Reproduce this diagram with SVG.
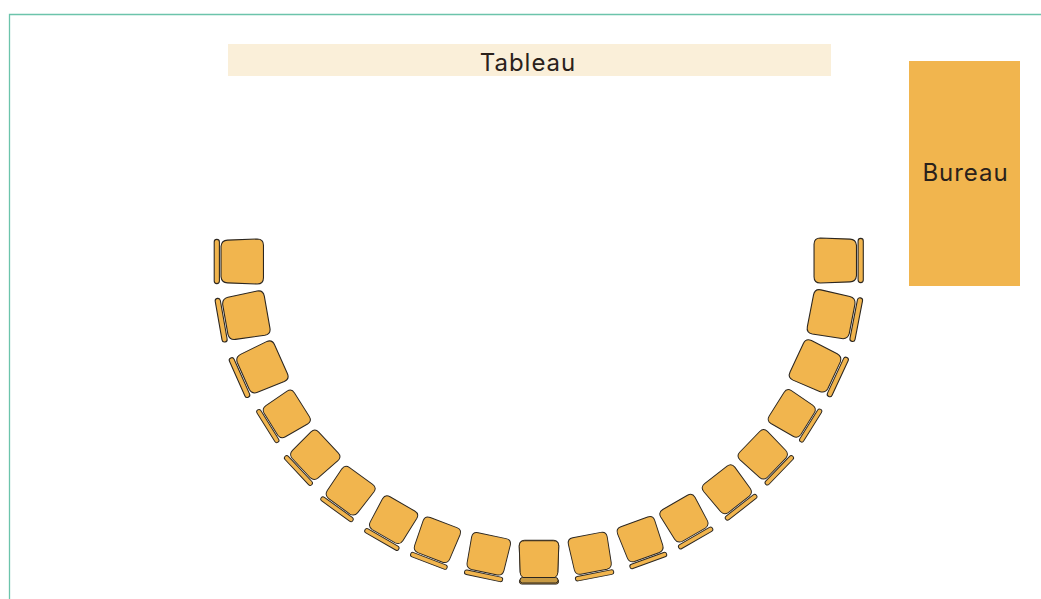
<svg xmlns="http://www.w3.org/2000/svg" width="1041" height="599" viewBox="0 0 1041 599">
<style>
.seat,.back{fill:#F1B54E;stroke:#2b2620;stroke-width:1}
.label{font-family:"Inter","Noto Sans",sans-serif;font-size:24px;letter-spacing:0.95px;fill:#2a211b;text-anchor:middle}
</style>
<defs>
<g id="chair">
<path class="seat" d="M-15 -20.800H15Q20.800 -20.800 20.800 -15L19.800 12.500Q19.500 18 14 18.500H-14Q-19.500 18 -19.800 12.500L-20.800 -15Q-20.800 -20.800 -15 -20.800Z"/>
<rect class="back" x="-20.500" y="20" width="41" height="4.800" rx="2.400"/>
</g>
</defs>
<path d="M9.500 599V14.500H1041" fill="none" stroke="#6cc4ab" stroke-width="1.300"/>
<g id="tableau"><rect x="228" y="44" width="603" height="32" fill="#FAEFD9"/><text class="label" x="528" y="71">Tableau</text></g>
<g id="bureau"><rect x="909" y="61" width="111" height="225" fill="#F1B54E"/><text class="label" x="965.500" y="181">Bureau</text></g>
<g id="chairs">
<g id="seat-1"><use href="#chair" transform="translate(241,261.500) rotate(90) scale(1.080)"/></g>
<g id="seat-2"><use href="#chair" transform="translate(245,316) rotate(80) scale(1.080)"/></g>
<g id="seat-3"><use href="#chair" transform="translate(261,368) rotate(66) scale(1.050)"/></g>
<g id="seat-4"><use href="#chair" transform="translate(285.500,415) rotate(58) scale(0.930)"/></g>
<g id="seat-5"><use href="#chair" transform="translate(314,456) rotate(47) scale(0.950)"/></g>
<g id="seat-6"><use href="#chair" transform="translate(349.500,492) rotate(36) scale(0.950)"/></g>
<g id="seat-7"><use href="#chair" transform="translate(392.500,521) rotate(30) scale(0.950)"/></g>
<g id="seat-8"><use href="#chair" transform="translate(436.500,541) rotate(21) scale(0.950)"/></g>
<g id="seat-9"><use href="#chair" transform="translate(488,555) rotate(12) scale(0.950)"/></g>
<g id="seat-10"><use href="#chair" transform="translate(539,560) scale(0.950)"/><use href="#chair" transform="translate(539,560.500) scale(0.950)"/><rect x="520" y="577.500" width="38" height="5.500" rx="2.500" fill="#c79a45" stroke="#2b2620"/></g>
<g id="seat-11"><use href="#chair" transform="translate(590.500,554.500) rotate(-11) scale(0.950)"/></g>
<g id="seat-12"><use href="#chair" transform="translate(641,540.500) rotate(-20) scale(0.950)"/></g>
<g id="seat-13"><use href="#chair" transform="translate(685,519.500) rotate(-30) scale(0.950)"/></g>
<g id="seat-14"><use href="#chair" transform="translate(728,490.500) rotate(-38) scale(0.950)"/></g>
<g id="seat-15"><use href="#chair" transform="translate(764,455.500) rotate(-46) scale(0.950)"/></g>
<g id="seat-16"><use href="#chair" transform="translate(793,414.500) rotate(-58) scale(0.930)"/></g>
<g id="seat-17"><use href="#chair" transform="translate(816.500,367) rotate(-65) scale(1.050)"/></g>
<g id="seat-18"><use href="#chair" transform="translate(832.500,315) rotate(-79) scale(1.080)"/></g>
<g id="seat-19"><use href="#chair" transform="translate(836.500,260.500) rotate(-90) scale(1.080)"/></g>
</g>
</svg>
